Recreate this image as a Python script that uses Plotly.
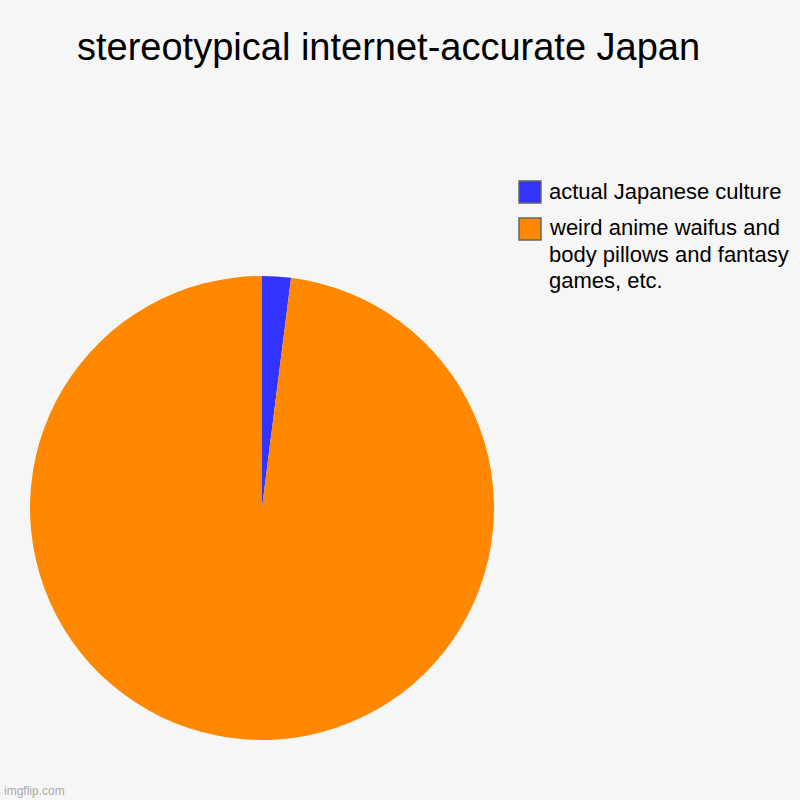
import plotly.graph_objects as go

labels = ["actual Japanese culture", "weird anime waifus and body pillows and fantasy games, etc."]
legend_lines = [["actual Japanese culture"],
                ["weird anime waifus and", "body pillows and fantasy", "games, etc."]]
values = [2, 98]
colors = ["#3333ff", "#ff8800"]

W, H = 800, 800
FONT = "Liberation Sans, Arial, Helvetica, sans-serif"

fig = go.Figure(go.Pie(
    labels=labels, values=values, sort=False, direction="clockwise", rotation=0,
    marker=dict(colors=colors, line=dict(width=0)),
    textinfo="none", hoverinfo="label+percent", showlegend=False,
    domain=dict(x=[30 / W, 494 / W], y=[1 - 740 / H, 1 - 276 / H]),
))

shapes = []
annotations = []
square_cy = [192, 229]
text_cy0 = [191, 228]
line_gap = 26
for i, col in enumerate(colors):
    cy = square_cy[i]
    shapes.append(dict(type="rect", xref="paper", yref="paper",
                       x0=519 / W, x1=541 / W, y0=1 - (cy + 11) / H, y1=1 - (cy - 11) / H,
                       fillcolor=col, line=dict(color="#666666", width=1.5)))
    for j, line in enumerate(legend_lines[i]):
        ty = text_cy0[i] + j * line_gap
        annotations.append(dict(text=line, xref="paper", yref="paper", x=547 / W, y=1 - ty / H,
                                xanchor="left", yanchor="middle", align="left", showarrow=False,
                                font=dict(family=FONT, size=22, color="#000000")))

annotations.append(dict(text="imgflip.com", xref="paper", yref="paper", x=2 / W, y=1 - 791 / H,
                        xanchor="left", yanchor="middle", showarrow=False,
                        font=dict(family=FONT, size=12, color="#aaaaaa")))

fig.update_layout(
    width=W, height=H,
    margin=dict(l=0, r=0, t=0, b=0),
    paper_bgcolor="#f6f6f6", plot_bgcolor="#f6f6f6",
    title=dict(text="stereotypical internet-accurate Japan", x=77 / W, xanchor="left",
               y=1 - 47 / H, yanchor="middle", xref="paper",
               font=dict(family=FONT, size=38, color="#000000")),
    shapes=shapes, annotations=annotations,
)

fig.write_html("out.html", config={"displayModeBar": False},
               post_script="document.body.style.margin='0';document.body.style.background='#f6f6f6';")
